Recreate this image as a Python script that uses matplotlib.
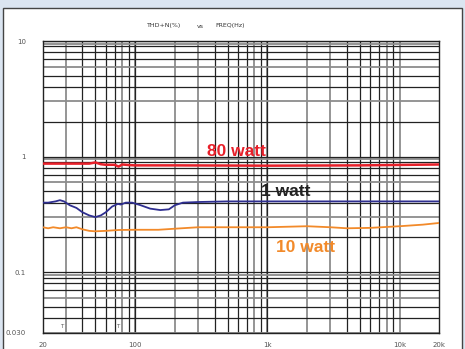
import matplotlib.pyplot as plt
from matplotlib.patches import Rectangle

# THD+N (%) vs frequency
freq_1w = [20, 22, 25, 27, 29, 32, 36, 40, 45, 50, 55, 60, 67, 74, 78, 85, 95,
           110, 130, 155, 180, 200, 230, 300, 500, 1000, 2000, 5000, 10000, 20000]
thd_1w = [0.40, 0.40, 0.41, 0.42, 0.41, 0.38, 0.36, 0.33, 0.31, 0.30, 0.31, 0.33,
          0.37, 0.39, 0.385, 0.40, 0.40, 0.38, 0.355, 0.345, 0.35, 0.38, 0.40,
          0.405, 0.41, 0.41, 0.41, 0.41, 0.41, 0.41]

freq_10w = [20, 22, 24, 27, 30, 33, 36, 40, 45, 50, 60, 75, 100, 150, 200, 300,
            500, 1000, 2000, 3000, 4000, 6000, 10000, 15000, 20000]
thd_10w = [0.245, 0.24, 0.245, 0.24, 0.245, 0.24, 0.245, 0.235, 0.228, 0.226,
           0.228, 0.232, 0.233, 0.233, 0.238, 0.245, 0.245, 0.245, 0.25, 0.245,
           0.24, 0.242, 0.25, 0.258, 0.267]

freq_80w = [20, 30, 40, 45, 50, 55, 60, 70, 75, 80, 90, 100, 200, 1000, 5000, 20000]
thd_80w = [0.87, 0.87, 0.87, 0.87, 0.89, 0.86, 0.85, 0.85, 0.82, 0.855, 0.845,
           0.84, 0.84, 0.835, 0.84, 0.855]

x_ticks = [20, 100, 1000, 10000, 20000]
x_labels = ['20', '100', '1k', '10k', '20k']
y_ticks = [0.03, 0.1, 1, 10]
y_labels = ['0.030', '0.1', '1', '10']

W, H = 465, 349
fig = plt.figure(figsize=(W / 100, H / 100), dpi=100)
fig.patch.set_facecolor('#dbe5f1')

# white panel with dark border, kept behind the axes
fig.patches.append(Rectangle((2.7 / W, -0.05), 459.5 / W, 1 - 8 / H + 0.05,
                             transform=fig.transFigure, facecolor='white',
                             edgecolor='#444444', lw=1.0, zorder=-5))

ax = fig.add_axes([42.7 / W, 1 - 332.7 / H, 396.6 / W, 291.7 / H])
ax.set_zorder(2)
ax.set_xscale('log')
ax.set_yscale('log')
ax.set_xlim(20, 20000)
ax.set_ylim(0.03, 10)
ax.patch.set_alpha(0)

dark = '#222222'
gray = '#8c8c8c'

# vertical grid
for dec in [10, 100, 1000]:
    for m in range(1, 11):
        f = dec * m
        if f < 20 or f > 10000:
            continue
        c = gray if m in (2, 3, 8, 10) else dark
        ax.axvline(f, color=c, lw=1.3 if c == gray else 0.9, zorder=1)

# horizontal grid
for dec in [0.01, 0.1, 1]:
    for m in [2, 3, 4, 5, 6, 7, 8, 9, 9.5, 10]:
        v = dec * m
        if v < 0.03 or v > 10:
            continue
        c = gray if m in (3, 6, 9.5) else dark
        ax.axhline(v, color=c, lw=1.3 if c == gray else 0.9, zorder=1)

for s in ax.spines.values():
    s.set_color(dark)
    s.set_linewidth(1.0)

ax.plot(freq_80w, thd_80w, color='#e8202a', lw=1.8, zorder=3)
ax.plot(freq_1w, thd_1w, color='#2e2e90', lw=1.3, zorder=3)
ax.plot(freq_10w, thd_10w, color='#f28a2a', lw=1.3, zorder=3)

ax.set_xticks(x_ticks)
ax.set_xticklabels(x_labels)
ax.set_yticks(y_ticks)
ax.set_yticklabels(y_labels)
ax.minorticks_off()
ax.tick_params(length=0, labelsize=5, labelcolor='#555555')
ax.tick_params(axis='x', pad=7)
ax.tick_params(axis='y', pad=12)

def px(x, y):
    return x / W, 1 - y / H

fnt = ['Liberation Sans', 'DejaVu Sans']
fig.text(*px(236, 152), '80 watt', color='#e8202a', fontsize=12.5,
         fontweight='bold', family=fnt, ha='center', va='center', zorder=5)
fig.text(*px(286, 191), '1 watt', color='#222222', fontsize=12.5,
         fontweight='bold', family=fnt, ha='center', va='center', zorder=5)
fig.text(*px(306, 247.5), '10 watt', color='#f28a2a', fontsize=12.5,
         fontweight='bold', family=fnt, ha='center', va='center', zorder=5)

fig.text(*px(147, 26), 'THD+N(%)', fontsize=4.5, color='#333333', va='center')
fig.text(*px(197, 26), 'vs', fontsize=4.5, color='#333333', va='center')
fig.text(*px(215, 26), 'FREQ(Hz)', fontsize=4.5, color='#333333', va='center')

fig.text(*px(61.7, 326), 'T', fontsize=4, color='#555555', ha='center',
         va='center', zorder=5)
fig.text(*px(118, 326), 'T', fontsize=4, color='#555555', ha='center',
         va='center', zorder=5)

fig.savefig('out.png', dpi=100, facecolor=fig.get_facecolor())
